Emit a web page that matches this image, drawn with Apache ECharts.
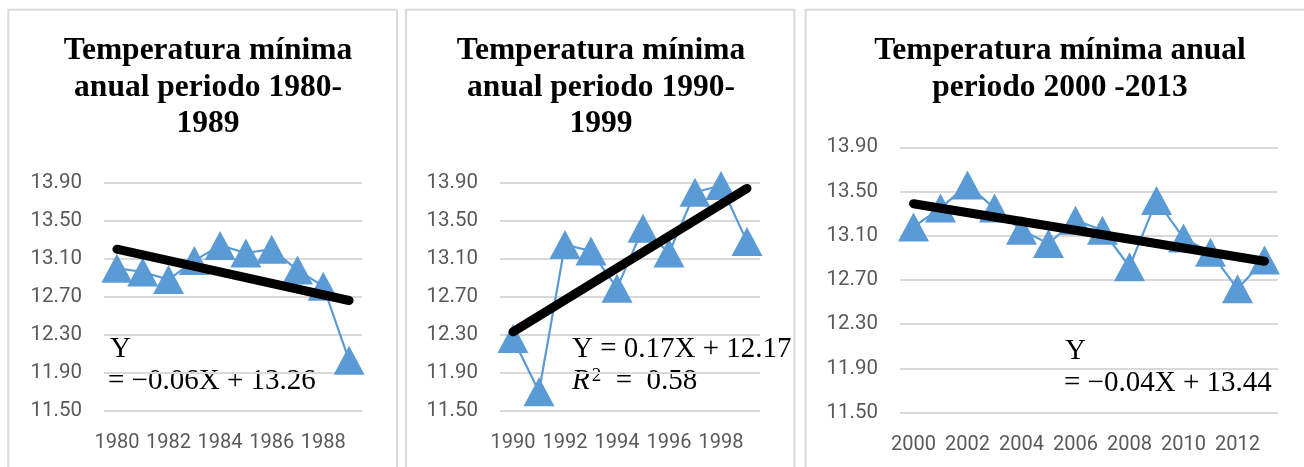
<!DOCTYPE html>
<html>
<head>
<meta charset="utf-8">
<script src="https://cdn.jsdelivr.net/npm/echarts@6/dist/echarts.min.js"></script>
<style>
html,body{margin:0;padding:0;background:#fff;}
#c{width:1304px;height:467px;}
</style>
</head>
<body>
<div id="c"></div>
<script>
// ---- data ----
const years1 = ['1980','1981','1982','1983','1984','1985','1986','1987','1988','1989'];
const temp1  = [13.00, 12.96, 12.88, 13.08, 13.24, 13.16, 13.20, 12.98, 12.81, 12.03];
const trend1 = [13.20, 12.66];

const years2 = ['1990','1991','1992','1993','1994','1995','1996','1997','1998','1999'];
const temp2  = [12.26, 11.70, 13.25, 13.18, 12.79, 13.42, 13.16, 13.80, 13.87, 13.28];
const trend2 = [12.33, 13.84];

const years3 = ['2000','2001','2002','2003','2004','2005','2006','2007','2008','2009','2010','2011','2012','2013'];
const temp3  = [13.18, 13.35, 13.56, 13.35, 13.15, 13.03, 13.24, 13.15, 12.82, 13.42, 13.08, 12.95, 12.62, 12.88];
const trend3 = [13.39, 12.87];

const yMin = 11.5, yMax = 13.9, yStep = 0.4;

const titles = [
  'Temperatura mínima\nanual periodo 1980-\n1989',
  'Temperatura mínima\nanual periodo 1990-\n1999',
  'Temperatura mínima anual\nperiodo 2000 -2013'
];

// ---- chart ----
const chart = echarts.init(document.getElementById('c'));
const BLUE = '#5B9BD5';
const GRID = '#D9D9D9';
const LABEL = '#595959';

const grids = [
  {left: 104, top: 182.7, width: 258, height: 228},
  {left: 500, top: 182.7, width: 260, height: 228},
  {left: 900, top: 147.3, width: 378, height: 265.4}
];
const cats = [years1, years2, years3];
const temps = [temp1, temp2, temp3];
const trends = [trend1, trend2, trend3];

function xAxis(i){
  return {
    type: 'category', gridIndex: i, data: cats[i], boundaryGap: true,
    axisLine: {show: false}, axisTick: {show: false},
    axisLabel: {interval: 1, color: LABEL, fontFamily: 'Roboto', fontSize: 20, margin: 22}
  };
}
function yAxis(i){
  return {
    type: 'value', gridIndex: i, min: yMin, max: yMax, interval: yStep,
    axisLine: {show: false}, axisTick: {show: false},
    splitLine: {lineStyle: {color: GRID, width: 2}},
    axisLabel: {color: LABEL, fontFamily: 'Roboto', fontSize: 20.5, margin: 22,
      formatter: v => v.toFixed(2)}
  };
}
const series = [];
for (let i = 0; i < 3; i++) {
  series.push({
    type: 'line', xAxisIndex: i, yAxisIndex: i, data: temps[i],
    lineStyle: {color: BLUE, width: 2.2}, itemStyle: {color: BLUE},
    symbol: 'triangle', symbolSize: [31, 29], showAllSymbol: true, z: 2, animation: false
  });
  const c = cats[i];
  series.push({
    type: 'line', xAxisIndex: i, yAxisIndex: i,
    data: [[c[0], trends[i][0]], [c[c.length-1], trends[i][1]]],
    lineStyle: {color: '#000', width: 9, cap: 'round'},
    symbol: 'none', z: 3, animation: false
  });
}

const titleCenters = [208, 601, 1060];
const graphic = [
  {type: 'rect', shape: {x: 8.3, y: 9.7, width: 388.7, height: 480}, style: {fill: 'none', stroke: GRID, lineWidth: 2}, silent: true},
  {type: 'rect', shape: {x: 406, y: 9.7, width: 388.3, height: 480}, style: {fill: 'none', stroke: GRID, lineWidth: 2}, silent: true},
  {type: 'rect', shape: {x: 805.7, y: 9.7, width: 520, height: 480}, style: {fill: 'none', stroke: GRID, lineWidth: 2}, silent: true}
];
titles.forEach((t, i) => {
  graphic.push({type: 'text', x: titleCenters[i], y: 33, silent: true,
    style: {text: t, fill: '#000', font: 'bold 31.5px "Liberation Serif"', lineHeight: 36.5,
      textAlign: 'center', textVerticalAlign: 'top'}});
});
const eqFont = '29px "Liberation Serif"';
function eqText(x, y, text, rich){
  const s = {text: text, fill: '#000', font: eqFont, textAlign: 'left', textVerticalAlign: 'middle'};
  if (rich) s.rich = rich;
  graphic.push({type: 'text', x: x, y: y, silent: true, style: s});
}
eqText(110, 349, 'Y');
eqText(108, 381, '= −0.06X + 13.26');
eqText(572, 349, 'Y = 0.17X + 12.17');
eqText(572, 381, '{i|R}{s|2}  =  0.58', {
  i: {font: 'italic 29px "Liberation Serif"', fill: '#000', verticalAlign: 'middle'},
  s: {font: '19px "Liberation Serif"', fill: '#000', verticalAlign: 'top', padding: [0, 0, 0, 2]}
});
eqText(1065, 351, 'Y');
eqText(1064, 383, '= −0.04X + 13.44');

chart.setOption({
  animation: false,
  backgroundColor: '#fff',
  grid: grids,
  xAxis: [xAxis(0), xAxis(1), xAxis(2)],
  yAxis: [yAxis(0), yAxis(1), yAxis(2)],
  series: series,
  graphic: graphic
});
</script>
</body>
</html>
